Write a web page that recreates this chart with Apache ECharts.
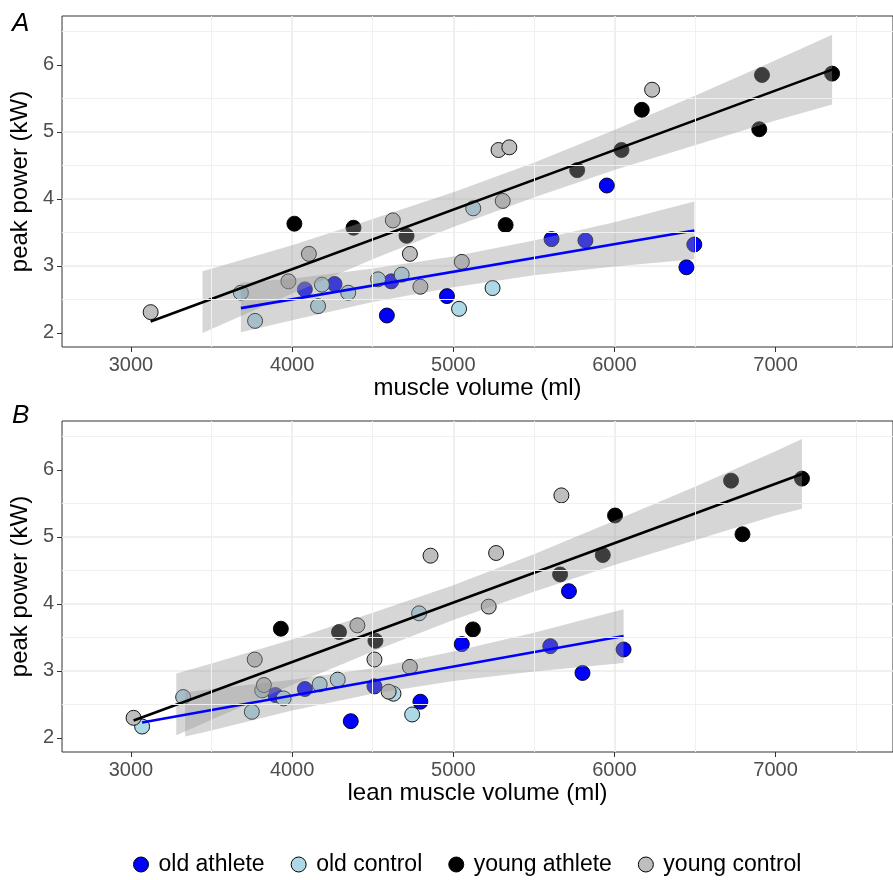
<!DOCTYPE html>
<html>
<head>
<meta charset="utf-8">
<script src="https://cdn.jsdelivr.net/npm/echarts@6/dist/echarts.min.js"></script>
<style>
  html, body { margin: 0; padding: 0; background: #fff; }
  #chart { width: 893px; height: 880px; }
</style>
</head>
<body>
<div id="chart"></div>
<script>
const groupNames = ['old athlete', 'old control', 'young athlete', 'young control']
const groupColors = ['#0000ff', '#add8e6', '#000000', '#bebebe']

// panel A: muscle volume (ml) vs peak power (kW)
const muscleOldAthlete = [4079, 4263, 4588, 4615, 4961, 5610, 5820, 5953, 6447, 6496]
const powerOldAthleteA = [2.65, 2.73, 2.26, 2.77, 2.55, 3.40, 3.38, 4.20, 2.98, 3.32]
const muscleOldControl = [3682, 3770, 4161, 4185, 4348, 4533, 4680, 5036, 5124, 5244]
const powerOldControlA = [2.60, 2.18, 2.40, 2.72, 2.60, 2.80, 2.87, 2.36, 3.86, 2.67]
const muscleYoungAthlete = [4014, 4381, 4710, 5325, 5769, 6044, 6170, 6899, 6916, 7351]
const powerYoungAthleteA = [3.63, 3.57, 3.45, 3.61, 4.43, 4.73, 5.33, 5.04, 5.85, 5.87]
const muscleYoungControl = [3122, 3977, 4104, 4625, 4731, 4796, 5053, 5281, 5307, 5348, 6234]
const powerYoungControlA = [2.31, 2.77, 3.18, 3.68, 3.18, 2.69, 3.06, 4.73, 3.97, 4.77, 5.63]

// panel B: lean muscle volume (ml) vs peak power (kW)
const leanOldAthlete = [3896, 4079, 4364, 4511, 4796, 5053, 5602, 5718, 5802, 6057]
const powerOldAthleteB = [2.64, 2.73, 2.25, 2.77, 2.54, 3.40, 3.37, 4.19, 2.97, 3.32]
const leanOldControl = [3069, 3324, 3750, 3814, 3947, 4171, 4283, 4629, 4745, 4788]
const powerOldControlB = [2.17, 2.61, 2.39, 2.71, 2.59, 2.80, 2.87, 2.66, 2.35, 3.86]
const leanYoungAthlete = [3930, 4291, 4517, 5122, 5663, 5928, 6004, 6724, 6795, 7164]
const powerYoungAthleteB = [3.63, 3.58, 3.45, 3.62, 4.44, 4.73, 5.32, 5.84, 5.04, 5.87]
const leanYoungControl = [3016, 3768, 3825, 4405, 4511, 4599, 4731, 4859, 5220, 5266, 5671]
const powerYoungControlB = [2.30, 3.17, 2.79, 3.68, 3.17, 2.69, 3.06, 4.72, 3.96, 4.76, 5.62]

// fitted lines (end points)
const fitOldA_x = [3682, 6496], fitOldA_y = [2.37, 3.53]
const fitYoungA_x = [3122, 7351], fitYoungA_y = [2.17, 5.93]
const fitOldB_x = [3069, 6057], fitOldB_y = [2.23, 3.52]
const fitYoungB_x = [3016, 7164], fitYoungB_y = [2.26, 5.94]

// confidence bands
const bandYoungA_x = [3444, 4000, 4500, 5000, 5500, 6000, 6500, 7000, 7351]
const bandYoungA_hi = [2.92, 3.31, 3.70, 4.10, 4.54, 5.03, 5.54, 6.07, 6.45]
const bandYoungA_lo = [2.00, 2.59, 3.10, 3.58, 4.02, 4.43, 4.80, 5.17, 5.41]
const bandOldA_x = [3682, 4000, 4500, 5000, 5500, 6000, 6496]
const bandOldA_hi = [2.75, 2.81, 2.96, 3.14, 3.38, 3.65, 3.96]
const bandOldA_lo = [2.01, 2.19, 2.46, 2.68, 2.86, 2.99, 3.10]
const bandYoungB_x = [3281, 3500, 4000, 4500, 5000, 5500, 6000, 6500, 7000, 7164]
const bandYoungB_hi = [2.96, 3.11, 3.47, 3.87, 4.28, 4.74, 5.24, 5.75, 6.28, 6.46]
const bandYoungB_lo = [2.04, 2.27, 2.79, 3.29, 3.76, 4.18, 4.58, 4.95, 5.32, 5.42]
const bandOldB_x = [3336, 3500, 4000, 4500, 5000, 5500, 6057]
const bandOldB_hi = [2.68, 2.73, 2.87, 3.04, 3.29, 3.57, 3.92]
const bandOldB_lo = [2.02, 2.11, 2.41, 2.66, 2.85, 2.99, 3.12]

// axis ticks
const xTicks = [3000, 4000, 5000, 6000, 7000]
const xMinor = [3500, 4500, 5500, 6500, 7500]
const yTicks = [2, 3, 4, 5, 6]
const yMinor = [2.5, 3.5, 4.5, 5.5, 6.5]

const font = '"Liberation Sans", Arial, sans-serif'

function zip(xs, ys) {
    return xs.map((x, i) => [x, ys[i]])
}

function makeX(idx, name) {
    return {
        gridIndex: idx, type: 'value', min: 2572, max: 7729, splitNumber: 5,
        name: name, nameLocation: 'middle', nameGap: 29,
        nameTextStyle: { fontSize: 24, color: '#000', fontFamily: font },
        axisLine: { show: false },
        axisTick: { show: true, customValues: xTicks, length: 5, lineStyle: { color: '#333' } },
        axisLabel: { customValues: xTicks, formatter: v => String(v), fontSize: 20, color: '#4d4d4d', margin: 8, fontFamily: font },
        splitLine: { show: true, showMinLine: false, showMaxLine: false, lineStyle: { color: '#ebebeb', width: 1.6 } }
    }
}

function makeY(idx) {
    return {
        gridIndex: idx, type: 'value', min: 1.79, max: 6.73, splitNumber: 5,
        name: 'peak power (kW)', nameLocation: 'middle', nameGap: 25,
        nameTextStyle: { fontSize: 24, color: '#000', fontFamily: font },
        axisLine: { show: false },
        axisTick: { show: true, customValues: yTicks, length: 5, lineStyle: { color: '#333' } },
        axisLabel: { customValues: yTicks, formatter: v => String(v), fontSize: 20, color: '#4d4d4d', margin: 8, fontFamily: font },
        splitLine: { show: true, showMinLine: false, showMaxLine: false, lineStyle: { color: '#ebebeb', width: 1.6 } }
    }
}

function band(idx, xs, hi, lo) {
    return {
        type: 'custom', xAxisIndex: idx, yAxisIndex: idx, z: 3, silent: true,
        data: [[xs[0], lo[0]]],
        renderItem: (params, api) => {
            let pts = []
            for (let i = 0; i < xs.length; i++) pts.push(api.coord([xs[i], hi[i]]))
            for (let i = xs.length - 1; i >= 0; i--) pts.push(api.coord([xs[i], lo[i]]))
            return { type: 'polygon', shape: { points: pts }, style: { fill: 'rgba(153,153,153,0.4)' } }
        }
    }
}

function fit(idx, xs, ys, color) {
    return {
        type: 'line', xAxisIndex: idx, yAxisIndex: idx, z: 4, silent: true,
        data: zip(xs, ys), showSymbol: false,
        lineStyle: { color: color, width: 2.6 }
    }
}

function minorGrid(idx) {
    return {
        type: 'line', xAxisIndex: idx, yAxisIndex: idx, z: 1, data: [], silent: true,
        markLine: {
            silent: true, symbol: 'none', animation: false,
            label: { show: false },
            lineStyle: { color: '#f0f0f0', width: 1, type: 'solid' },
            data: xMinor.map(v => ({ xAxis: v })).concat(yMinor.map(v => ({ yAxis: v })))
        }
    }
}

function points(idx, g, xs, ys) {
    return {
        name: groupNames[g], type: 'scatter', xAxisIndex: idx, yAxisIndex: idx, z: 2,
        data: zip(xs, ys), symbolSize: 15,
        itemStyle: { color: groupColors[g], borderColor: '#000', borderWidth: 0.9, opacity: 1 }
    }
}

let chart = echarts.init(document.getElementById('chart'))
chart.setOption({
    animation: false,
    backgroundColor: '#fff',
    grid: [
        { left: 60, top: 16, width: 844, height: 331, show: true, borderColor: '#333', borderWidth: 1 },
        { left: 60, top: 421, width: 844, height: 331, show: true, borderColor: '#333', borderWidth: 1 }
    ],
    xAxis: [makeX(0, 'muscle volume (ml)'), makeX(1, 'lean muscle volume (ml)')],
    yAxis: [makeY(0), makeY(1)],
    legend: {
        data: groupNames, top: 848, left: 128, icon: 'circle',
        itemWidth: 15, itemHeight: 15, itemGap: 26,
        itemStyle: { borderColor: '#000', borderWidth: 1 },
        textStyle: { fontSize: 23, color: '#000', fontFamily: font, padding: [0, 0, 0, 5] }
    },
    graphic: [
        { type: 'text', left: 12, top: 11, style: { text: 'A', fontSize: 26, fontStyle: 'italic', fill: '#000', fontFamily: font } },
        { type: 'text', left: 12, top: 403, style: { text: 'B', fontSize: 26, fontStyle: 'italic', fill: '#000', fontFamily: font } }
    ],
    series: [
        minorGrid(0),
        points(0, 0, muscleOldAthlete, powerOldAthleteA),
        points(0, 1, muscleOldControl, powerOldControlA),
        points(0, 2, muscleYoungAthlete, powerYoungAthleteA),
        points(0, 3, muscleYoungControl, powerYoungControlA),
        band(0, bandYoungA_x, bandYoungA_hi, bandYoungA_lo),
        band(0, bandOldA_x, bandOldA_hi, bandOldA_lo),
        fit(0, fitYoungA_x, fitYoungA_y, '#000'),
        fit(0, fitOldA_x, fitOldA_y, '#0000ff'),
        minorGrid(1),
        points(1, 0, leanOldAthlete, powerOldAthleteB),
        points(1, 1, leanOldControl, powerOldControlB),
        points(1, 2, leanYoungAthlete, powerYoungAthleteB),
        points(1, 3, leanYoungControl, powerYoungControlB),
        band(1, bandYoungB_x, bandYoungB_hi, bandYoungB_lo),
        band(1, bandOldB_x, bandOldB_hi, bandOldB_lo),
        fit(1, fitYoungB_x, fitYoungB_y, '#000'),
        fit(1, fitOldB_x, fitOldB_y, '#0000ff')
    ]
})
window.addEventListener('resize', () => {
    chart.resize()
})
</script>
</body>
</html>
